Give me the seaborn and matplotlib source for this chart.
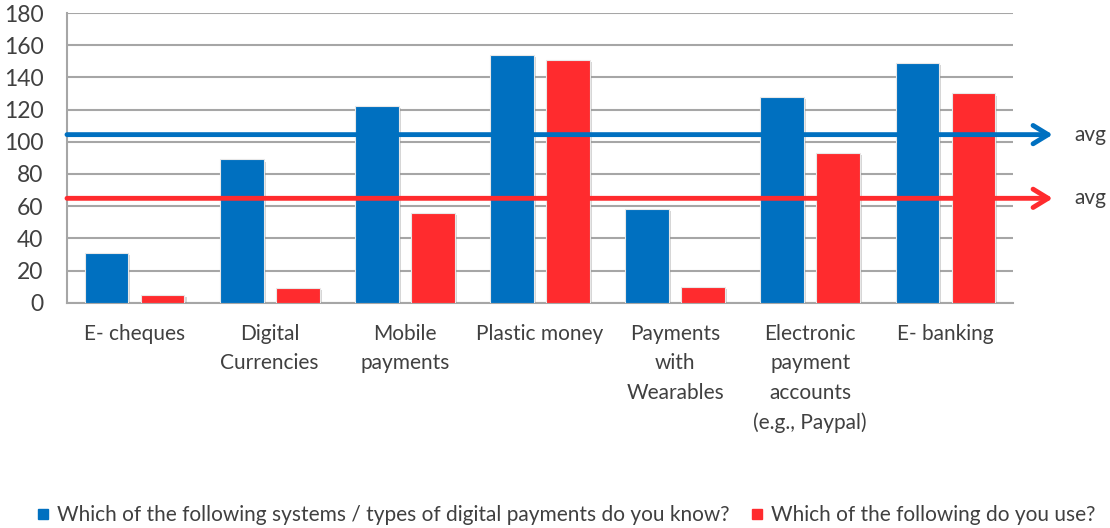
import matplotlib
matplotlib.use("Agg")
import matplotlib.pyplot as plt
import matplotlib.patheffects as pe
from matplotlib.lines import Line2D
import numpy as np
import pandas as pd
import seaborn as sns

categories = [
    "E- cheques",
    "Digital\nCurrencies",
    "Mobile\npayments",
    "Plastic money",
    "Payments\nwith\nWearables",
    "Electronic\npayment\naccounts\n(e.g., Paypal)",
    "E- banking",
]
series_names = [
    "Which of the following systems / types of digital payments do you know?",
    "Which of the following do you use?",
]
know_values = [31, 89, 122, 154, 58, 128, 149]
use_values = [5, 9, 56, 151, 10, 93, 130]
y_ticks = [0, 20, 40, 60, 80, 100, 120, 140, 160, 180]

BLUE = "#0070C0"
RED = "#FF2B2E"
TEXT = "#404040"
GRID = "#A6A6A6"

df = pd.DataFrame({
    "category": categories * 2,
    "series": [series_names[0]] * len(categories) + [series_names[1]] * len(categories),
    "value": know_values + use_values,
})

sns.set_theme(style="white")
plt.rcParams["font.family"] = ["Lato", "DejaVu Sans"]

fig = plt.figure(figsize=(11.10, 5.28), dpi=100)
ax = fig.add_axes([67 / 1110, 1 - 302.7 / 528, (1013 - 67) / 1110, (302.7 - 13) / 528])

sns.barplot(
    data=df, x="category", y="value", hue="series",
    order=categories, hue_order=series_names,
    palette=[BLUE, RED], width=0.83, gap=0.22,
    saturation=1, legend=False, ax=ax, zorder=3,
)
for patch in ax.patches:
    patch.set_edgecolor("#E8E8E8")
    patch.set_linewidth(0.8)
    patch.set_path_effects([pe.SimplePatchShadow(offset=(1.5, -1.5), shadow_rgbFace="#888888", alpha=0.35), pe.Normal()])

ax.set_xlim(-0.5, len(categories) - 0.5)
ax.set_ylim(0, 180)
ax.set_yticks(y_ticks)
ax.yaxis.grid(True, color=GRID, linewidth=1.5, zorder=0)
ax.set_axisbelow(True)
for side in ["top", "right"]:
    ax.spines[side].set_visible(False)
for side in ["left", "bottom"]:
    ax.spines[side].set_color(GRID)
    ax.spines[side].set_linewidth(1.5)
ax.set_xlabel("")
ax.set_ylabel("")
ax.tick_params(axis="y", length=0, pad=17, labelsize=16.5, labelcolor=TEXT)
ax.tick_params(axis="x", length=0, pad=15, labelsize=15, labelcolor=TEXT)
for lbl in ax.get_xticklabels():
    lbl.set_multialignment("center")
    lbl.set_linespacing(1.6)

# average arrows for each series
for vals, color in [(know_values, BLUE), (use_values, RED)]:
    avg = float(np.mean(vals))
    ax.annotate(
        "", xy=(1.042, avg), xytext=(0.0, avg),
        xycoords=("axes fraction", "data"), textcoords=("axes fraction", "data"),
        arrowprops=dict(arrowstyle="->,head_length=0.9,head_width=0.55", color=color,
                        lw=3.5, shrinkA=0, shrinkB=0),
        annotation_clip=False, zorder=5,
    )
    ax.annotate(
        "avg", xy=(1.065, avg), xycoords=("axes fraction", "data"),
        ha="left", va="center", fontsize=15, color=TEXT, annotation_clip=False,
    )

handles = [
    Line2D([], [], marker="s", linestyle="", markersize=7, color=BLUE),
    Line2D([], [], marker="s", linestyle="", markersize=7, color=RED),
]
fig.legend(
    handles, series_names, loc="lower center", bbox_to_anchor=(0.51, -0.03),
    ncol=2, frameon=False, fontsize=15, handlelength=0.6, handletextpad=0.4,
    columnspacing=1.0, labelcolor=TEXT,
)

fig.savefig("out.png", dpi=100)
